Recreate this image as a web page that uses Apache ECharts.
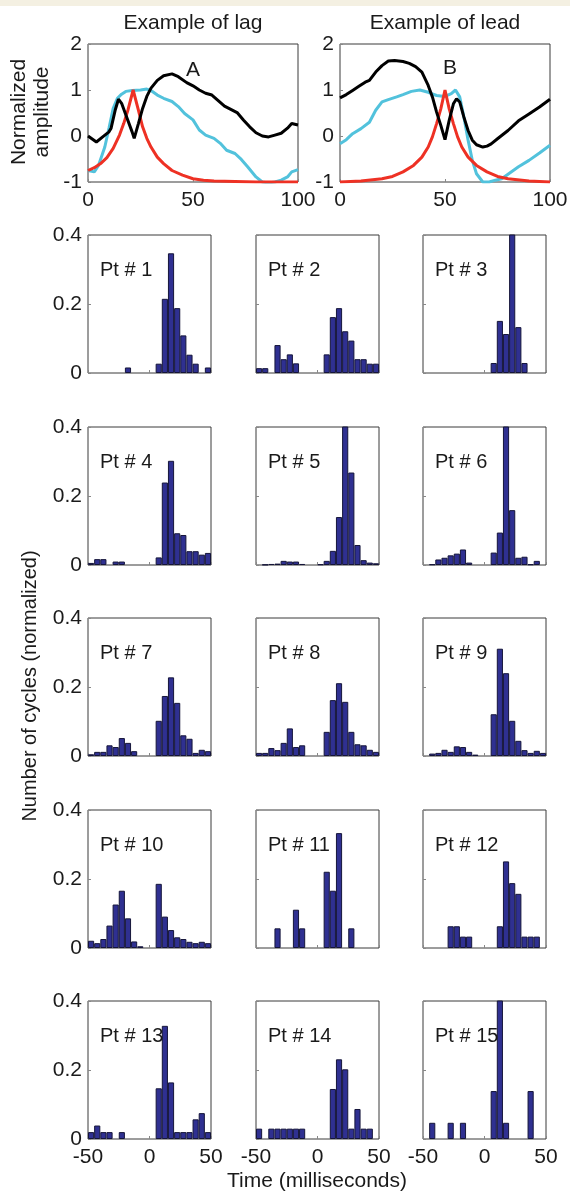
<!DOCTYPE html>
<html>
<head>
<meta charset="utf-8">
<title>Lag / lead histograms</title>
<script src="https://cdn.jsdelivr.net/npm/echarts@6/dist/echarts.min.js"></script>
<style>
  html, body { margin: 0; padding: 0; background: #fff; }
  #chart { width: 570px; height: 1194px; }
</style>
</head>
<body>
<div id="chart"></div>
<script>
// ---- example waveforms (x in ms, normalized amplitude) ----
var lagBlackX = [0, 2.5, 4, 7, 10, 11, 13, 14.5, 16, 18, 21, 22, 24, 26, 28, 30, 33, 36, 40, 43, 47, 50, 53, 56, 59, 62, 65, 68, 71, 74, 77, 80, 83, 86, 89, 92, 95, 97, 100];
var lagBlack = [0, -0.08, -0.13, -0.02, 0.09, 0.17, 0.57, 0.8, 0.71, 0.46, 0.09, -0.05, 0.27, 0.6, 0.86, 1.04, 1.21, 1.31, 1.35, 1.29, 1.16, 1.09, 1.0, 0.93, 0.89, 0.77, 0.65, 0.58, 0.51, 0.35, 0.2, 0.07, 0, -0.02, 0.02, 0.06, 0.17, 0.27, 0.24];
var lagCyanX = [0, 3, 5, 8, 10, 12, 14, 16, 18, 21, 25, 28, 30, 33, 36, 40, 43, 46, 50, 53, 56, 60, 63, 66, 70, 73, 76, 80, 83, 86, 89, 92, 95, 97, 100];
var lagCyan = [-0.75, -0.78, -0.64, -0.24, 0.17, 0.6, 0.82, 0.91, 0.97, 0.99, 1.0, 1.02, 0.99, 0.89, 0.82, 0.75, 0.64, 0.49, 0.35, 0.13, 0.02, -0.05, -0.16, -0.31, -0.38, -0.51, -0.67, -0.89, -1.0, -1.02, -1.0, -0.96, -0.89, -0.78, -0.73];
var lagRedX = [0, 3, 6, 9, 12, 15, 17, 19, 21.5, 24, 26, 28, 30, 33, 36, 40, 45, 50, 55, 60, 70, 80, 90, 100];
var lagRed = [-0.75, -0.69, -0.6, -0.47, -0.27, 0.02, 0.27, 0.56, 1.0, 0.56, 0.2, -0.05, -0.24, -0.46, -0.6, -0.75, -0.85, -0.93, -0.96, -0.98, -0.99, -1.0, -1.0, -1.0];

var leadBlackX = [0, 3, 6, 9, 12, 14, 17, 20, 23, 26, 30, 33, 36, 39, 42, 44, 46, 48, 50, 52, 54, 55.5, 57, 59, 61, 63, 65, 68, 70, 72, 75, 80, 85, 90, 95, 100];
var leadBlack = [0.83, 0.9, 0.99, 1.08, 1.17, 1.21, 1.39, 1.53, 1.63, 1.64, 1.62, 1.58, 1.51, 1.39, 1.1, 0.85, 0.52, 0.23, -0.08, 0.34, 0.7, 0.81, 0.74, 0.41, 0.12, -0.09, -0.19, -0.24, -0.22, -0.17, -0.06, 0.12, 0.33, 0.48, 0.63, 0.8];
var leadCyanX = [0, 3, 6, 10, 14, 17, 20, 23, 27, 30, 34, 38, 42, 46, 50, 53, 55, 57, 59, 61, 63, 65, 68, 71, 74, 77, 80, 85, 90, 95, 100];
var leadCyan = [-0.17, -0.08, 0.05, 0.16, 0.3, 0.56, 0.74, 0.79, 0.85, 0.9, 0.97, 1.0, 0.95, 0.88, 0.86, 0.92, 1.0, 0.85, 0.41, -0.09, -0.53, -0.82, -1.0, -1.0, -0.96, -0.93, -0.83, -0.67, -0.53, -0.37, -0.2];
var leadRedX = [0, 10, 20, 25, 30, 35, 39, 42, 44, 46, 48, 50, 52, 54, 56, 58, 61, 65, 70, 75, 80, 90, 100];
var leadRed = [-1.0, -0.98, -0.93, -0.88, -0.78, -0.64, -0.46, -0.24, -0.02, 0.27, 0.59, 1.0, 0.59, 0.27, -0.02, -0.24, -0.46, -0.64, -0.78, -0.88, -0.93, -0.98, -1.0];

// ---- histograms: 5 ms bins from -50 to 50 ----
var binCenters = [-47.5, -42.5, -37.5, -32.5, -27.5, -22.5, -17.5, -12.5, -7.5, -2.5, 2.5, 7.5, 12.5, 17.5, 22.5, 27.5, 32.5, 37.5, 42.5, 47.5];
var pt1 = [0, 0, 0, 0, 0, 0, 0.016, 0, 0, 0, 0, 0.027, 0.215, 0.347, 0.188, 0.109, 0.053, 0.027, 0, 0.016];
var pt2 = [0.014, 0.014, 0, 0.081, 0.040, 0.054, 0.028, 0, 0, 0, 0, 0.054, 0.162, 0.188, 0.121, 0.094, 0.040, 0.040, 0.027, 0.027];
var pt3 = [0, 0, 0, 0, 0, 0, 0, 0, 0, 0, 0, 0.029, 0.151, 0.113, 0.45, 0.133, 0.029, 0, 0, 0];
var pt4 = [0.006, 0.017, 0.017, 0, 0.010, 0.010, 0, 0, 0, 0, 0, 0.022, 0.239, 0.302, 0.092, 0.087, 0.040, 0.040, 0.030, 0.035];
var pt5 = [0, 0.001, 0.003, 0.004, 0.012, 0.010, 0.010, 0.003, 0, 0, 0.002, 0.012, 0.041, 0.139, 0.45, 0.268, 0.058, 0.014, 0.007, 0.005];
var pt6 = [0, 0.002, 0.016, 0.021, 0.028, 0.033, 0.045, 0.007, 0, 0, 0, 0.036, 0.094, 0.45, 0.159, 0.021, 0.024, 0.002, 0.012, 0];
var pt7 = [0.005, 0.012, 0.012, 0.031, 0.026, 0.052, 0.038, 0.014, 0, 0, 0, 0.102, 0.174, 0.228, 0.154, 0.060, 0.050, 0.009, 0.018, 0.014];
var pt8 = [0.009, 0.009, 0.023, 0.017, 0.038, 0.080, 0.026, 0.031, 0, 0, 0, 0.070, 0.162, 0.211, 0.157, 0.070, 0.034, 0.031, 0.018, 0.012];
var pt9 = [0, 0.007, 0.009, 0.018, 0.012, 0.028, 0.026, 0.012, 0.004, 0, 0, 0.121, 0.311, 0.240, 0.102, 0.044, 0.017, 0.009, 0.015, 0.009];
var pt10 = [0.021, 0.014, 0.026, 0.065, 0.126, 0.166, 0.086, 0.019, 0.005, 0, 0, 0.186, 0.091, 0.052, 0.031, 0.026, 0.018, 0.014, 0.018, 0.014];
var pt11 = [0, 0, 0, 0.057, 0, 0, 0.111, 0.057, 0, 0, 0, 0.221, 0.166, 0.333, 0, 0.057, 0, 0, 0, 0];
var pt12 = [0, 0, 0, 0, 0.063, 0.063, 0.033, 0.033, 0, 0, 0, 0, 0.063, 0.251, 0.188, 0.157, 0.033, 0.033, 0.033, 0];
var pt13 = [0.020, 0.039, 0.020, 0.020, 0, 0.020, 0, 0, 0, 0, 0, 0.147, 0.328, 0.164, 0.020, 0.020, 0.020, 0.057, 0.075, 0.020];
var pt14 = [0.030, 0, 0.030, 0.030, 0.030, 0.030, 0.030, 0.030, 0, 0, 0, 0, 0.145, 0.231, 0.202, 0.030, 0.087, 0.030, 0.030, 0];
var pt15 = [0, 0.047, 0, 0, 0.047, 0, 0.047, 0, 0, 0, 0, 0.139, 0.45, 0.047, 0, 0, 0, 0.139, 0, 0];
var patients = [pt1, pt2, pt3, pt4, pt5, pt6, pt7, pt8, pt9, pt10, pt11, pt12, pt13, pt14, pt15];

var FONT = '"Liberation Sans", Arial, sans-serif';
var INK = '#1a1a1a';
var FRAME = '#3a3a3a';

var grid = [], xAxis = [], yAxis = [], series = [], graphic = [];

function addGrid(left, top, w, h) {
  grid.push({
    left: left, top: top, width: w, height: h,
    show: true, borderColor: FRAME, borderWidth: 1,
    containLabel: false, outerBoundsMode: 'none'
  });
  return grid.length - 1;
}

function valueAxis(g, min, max, step, labels, extra) {
  var ax = {
    gridIndex: g, type: 'value', min: min, max: max, interval: step,
    axisLine: { show: false, onZero: false },
    axisTick: { show: true, inside: true, length: 3, lineStyle: { color: '#888' } },
    splitLine: { show: false },
    axisLabel: { show: labels, color: INK, fontSize: 21, fontFamily: FONT, margin: 8 }
  };
  for (var k in extra) ax[k] = extra[k];
  return ax;
}

function pairs(xs, ys) {
  return xs.map(function (x, i) { return [x, ys[i]]; });
}

function txt(x, y, s, size, opts) {
  var el = {
    type: 'text', x: x, y: y, z: 100,
    style: { text: s, fontSize: size, fontFamily: FONT, fill: INK, align: 'center', verticalAlign: 'middle' }
  };
  if (opts) for (var k in opts) {
    if (k === 'rotation') el.rotation = opts[k];
    else el.style[k] = opts[k];
  }
  graphic.push(el);
}

// ---- top two example plots ----
var examples = [
  { left: 88, lines: [[lagCyanX, lagCyan, '#52c2dc'], [lagRedX, lagRed, '#ee3124'], [lagBlackX, lagBlack, '#000']] },
  { left: 340, lines: [[leadCyanX, leadCyan, '#52c2dc'], [leadRedX, leadRed, '#ee3124'], [leadBlackX, leadBlack, '#000']] }
];
examples.forEach(function (ex) {
  var g = addGrid(ex.left, 44, 210, 138);
  var xi = xAxis.length;
  xAxis.push(valueAxis(g, 0, 100, 50, true, { position: 'bottom' }));
  var yi = yAxis.length;
  yAxis.push(valueAxis(g, -1, 2, 1, true, { position: 'left' }));
  yAxis[yi].axisLabel.margin = 6;
  ex.lines.forEach(function (ln) {
    series.push({
      type: 'line', xAxisIndex: xi, yAxisIndex: yi,
      data: pairs(ln[0], ln[1]),
      showSymbol: false, symbol: 'none', clip: true, silent: true,
      lineStyle: { color: ln[2], width: 3 }
    });
  });
});

txt(193, 23, 'Example of lag', 21);
txt(445, 23, 'Example of lead', 21);
txt(193, 70, 'A', 21);
txt(450, 68, 'B', 21);
txt(31, 112, 'Normalized\namplitude', 21, { rotation: Math.PI / 2, lineHeight: 23 });

// ---- 5 x 3 histogram panels ----
var colLeft = [88, 256, 423];
var rowTop = [235, 427, 618, 810, 1001];
patients.forEach(function (vals, k) {
  var r = Math.floor(k / 3), c = k % 3;
  var g = addGrid(colLeft[c], rowTop[r], 123, 138);
  var ci = xAxis.length;
  xAxis.push({ gridIndex: g, type: 'category', data: binCenters, show: false, boundaryGap: true, axisLine: { onZero: false } });
  xAxis.push(valueAxis(g, -50, 50, 50, r === 4, { position: 'bottom' }));
  var yi = yAxis.length;
  yAxis.push(valueAxis(g, 0, 0.4, 0.2, c === 0, { position: 'left' }));
  yAxis[yi].axisLabel.margin = 6;
  series.push({
    type: 'bar', xAxisIndex: ci, yAxisIndex: yi,
    data: vals.map(function (v) { return v > 0 ? v : '-'; }),
    barCategoryGap: '0%', barGap: '0%', clip: true, silent: true,
    itemStyle: { color: '#2f3091', borderColor: '#15153a', borderWidth: 1 }
  });
  txt(colLeft[c] + 12, rowTop[r] + 35, 'Pt # ' + (k + 1), 20, { align: 'left' });
});

txt(30, 686, 'Number of cycles (normalized)', 20, { rotation: Math.PI / 2 });
txt(317, 1181, 'Time (milliseconds)', 21);

graphic.push({ type: 'rect', shape: { x: 0, y: 0, width: 570, height: 6 }, style: { fill: '#f4f0e2' }, z: 0 });

var chart = echarts.init(document.getElementById('chart'));
chart.setOption({
  animation: false,
  backgroundColor: '#fff',
  grid: grid,
  xAxis: xAxis,
  yAxis: yAxis,
  series: series,
  graphic: graphic
});
</script>
</body>
</html>
